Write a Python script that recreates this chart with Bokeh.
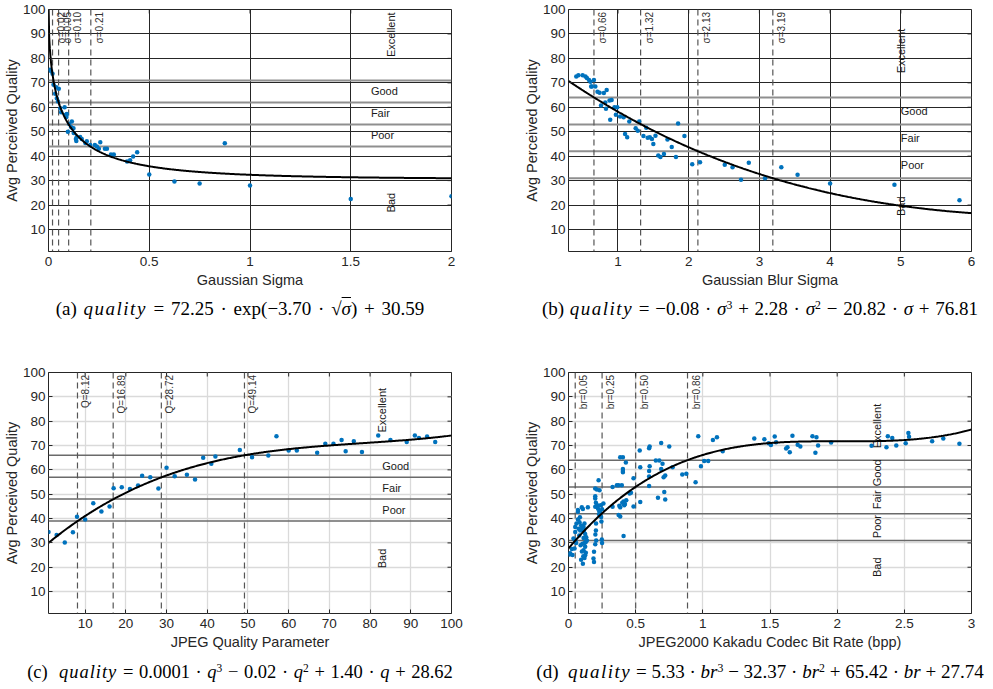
import math
import numpy as np
from bokeh.plotting import figure
from bokeh.models import Span, Div, Range1d, NumeralTickFormatter
from bokeh.layouts import row, column
from bokeh.embed import file_html
from bokeh.resources import INLINE
from bokeh.core.properties import value

# ---------------- data ----------------
y_ticks = [10, 20, 30, 40, 50, 60, 70, 80, 90, 100]
categories = ["Excellent", "Good", "Fair", "Poor", "Bad"]

# (a) Gaussian sigma
a_sigma = [0.008, 0.012, 0.020, 0.025, 0.033, 0.038, 0.041, 0.047, 0.051, 0.058, 0.063, 0.080,
           0.086, 0.089, 0.091, 0.096, 0.103, 0.113, 0.116, 0.124, 0.125, 0.136, 0.138, 0.140,
           0.157, 0.165, 0.183, 0.190, 0.207, 0.230, 0.240, 0.250, 0.257, 0.280, 0.290, 0.310,
           0.324, 0.390, 0.405, 0.420, 0.440, 0.500, 0.625, 0.750, 0.875, 1.000, 1.500, 2.000]
a_quality = [75.4, 74.8, 73.7, 69.2, 65.5, 68.2, 63.7, 62.4, 67.6, 59.6, 58.0, 60.0,
             56.9, 56.0, 57.2, 50.0, 53.2, 51.8, 54.2, 51.4, 49.5, 47.0, 46.2, 47.8,
             47.8, 47.0, 45.4, 46.1, 44.6, 44.6, 44.0, 43.0, 45.7, 43.0, 43.0, 40.7,
             40.7, 37.8, 38.3, 39.9, 41.6, 32.5, 29.6, 28.8, 45.3, 28.0, 22.5, 23.6]
a_coef = [72.25, -3.70, 30.59]
a_thresholds = [71, 62, 53, 44]
a_marks = [0.02, 0.05, 0.10, 0.21]
a_mark_labels = ["σ=0.02", "σ=0.05", "σ=0.10", "σ=0.21"]
a_xticks = [0, 0.5, 1, 1.5, 2]

# (b) Gaussian blur sigma
b_sigma = [0.41, 0.44, 0.50, 0.54, 0.56, 0.59, 0.61, 0.62, 0.63, 0.66, 0.68, 0.71, 0.74, 0.80,
           0.84, 0.76, 0.82, 0.83, 0.88, 0.91, 0.89, 0.95, 0.99, 0.97, 1.03, 1.08, 1.16, 1.10,
           1.13, 1.25, 1.28, 1.30, 1.36, 1.40, 1.42, 1.45, 1.48, 1.50, 1.53, 1.57, 1.60, 1.65,
           1.70, 1.76, 1.82, 1.85, 1.94, 2.05, 2.16, 2.51, 2.62, 2.74, 2.85, 3.08, 3.31, 3.54,
           4.00, 4.91, 5.83]
b_quality = [72.6, 73.1, 73.1, 72.6, 72.0, 71.2, 70.4, 68.5, 68.5, 71.2, 68.5, 66.4, 65.9, 65.8,
             67.1, 60.7, 62.0, 59.4, 62.8, 63.0, 54.9, 60.0, 60.0, 56.9, 56.2, 55.9, 54.2, 49.1,
             47.7, 51.4, 50.4, 54.2, 48.2, 51.6, 47.5, 47.7, 47.0, 45.0, 48.4, 40.3, 39.7, 40.9,
             46.8, 43.7, 39.7, 53.4, 48.2, 36.7, 37.5, 36.5, 35.5, 30.4, 37.3, 31.0, 35.5, 32.4,
             28.8, 28.3, 22.0]
b_coef = [-0.08, 2.28, -20.82, 76.81]
b_thresholds = [64, 53, 42, 31]
b_marks = [0.66, 1.32, 2.13, 3.19]
b_mark_labels = ["σ=0.66", "σ=1.32", "σ=2.13", "σ=3.19"]
b_xticks = [1, 2, 3, 4, 5, 6]

# (c) JPEG quality parameter
c_q = [1, 3, 5, 7, 8, 10, 12, 14, 16, 17, 19, 21, 23, 24, 26, 28, 30, 32, 35, 37, 39, 41, 42,
       48, 51, 55, 57, 60, 62, 67, 69, 71, 73, 74, 76, 78, 82, 85, 89, 91, 92, 94, 96]
c_quality = [34.5, 33.2, 30.2, 34.4, 40.7, 39.6, 46.3, 42.9, 45.0, 52.5, 52.9, 52.1, 53.6, 57.6,
             57.0, 52.3, 60.9, 57.4, 58.0, 56.0, 65.0, 62.5, 65.5, 68.2, 65.2, 65.9, 73.8, 68.0,
             68.0, 67.0, 70.7, 70.7, 72.3, 67.7, 71.8, 67.3, 74.1, 72.3, 71.4, 74.1, 73.1, 73.7, 71.4]
c_coef = [0.00007, -0.01645, 1.40, 28.62]
c_thresholds = [66, 57, 48, 39]
c_marks = [8.12, 16.89, 28.72, 49.14]
c_mark_labels = ["Q=8.12", "Q=16.89", "Q=28.72", "Q=49.14"]
c_xticks = [10, 20, 30, 40, 50, 60, 70, 80, 90, 100]

# (d) JPEG2000 Kakadu bit rate
d_br = [0.007, 0.012, 0.025, 0.030, 0.037, 0.045, 0.050, 0.050, 0.050, 0.057, 0.060, 0.070, 0.070,
        0.070, 0.075, 0.080, 0.082, 0.085, 0.087, 0.090, 0.094, 0.094, 0.099, 0.100, 0.100, 0.104,
        0.107, 0.107, 0.110, 0.112, 0.112, 0.112, 0.115, 0.119, 0.119, 0.120, 0.124, 0.124, 0.124,
        0.129, 0.129, 0.132, 0.137, 0.144,
        0.186, 0.190, 0.190, 0.199, 0.199, 0.199, 0.199, 0.199, 0.200, 0.204, 0.204, 0.205, 0.206,
        0.210, 0.211, 0.215, 0.220, 0.224, 0.228, 0.230, 0.231, 0.235, 0.240, 0.243, 0.245, 0.248,
        0.250, 0.250, 0.260,
        0.328, 0.328, 0.360, 0.373, 0.373, 0.378, 0.385, 0.385, 0.385, 0.397, 0.400, 0.405, 0.405,
        0.405, 0.405, 0.410, 0.410, 0.415, 0.420, 0.427, 0.430, 0.455, 0.465, 0.484, 0.484,
        0.530, 0.534, 0.534, 0.600, 0.600, 0.600, 0.600, 0.604, 0.604, 0.650, 0.666, 0.676, 0.690,
        0.690, 0.700, 0.708, 0.713, 0.720, 0.720, 0.750, 0.775, 0.847, 0.877, 0.946, 0.966, 0.986,
        1.010, 1.040, 1.075, 1.105, 1.148,
        1.383, 1.458, 1.490, 1.507, 1.535, 1.545, 1.620, 1.630, 1.647, 1.667, 1.706, 1.726, 1.816,
        1.838, 1.846, 1.858, 1.955, 2.256, 2.367, 2.377, 2.410, 2.440, 2.510, 2.530, 2.535, 2.707,
        2.790, 2.910]
d_quality = [25.2, 25.7, 27.5, 25.0, 31.8, 27.7, 36.5, 34.5, 31.1, 30.0, 38.0, 43.5, 39.6,
             42.8, 35.8, 33.0, 38.5, 40.5, 35.1, 29.0, 37.2, 23.1, 44.6, 35.8, 26.5, 29.7,
             43.9, 21.4, 24.5, 36.5, 32.0, 27.0, 35.0, 38.0, 23.8, 30.0, 33.7, 28.4, 24.9,
             26.0, 30.4, 32.3, 31.0, 44.6,
             23.6, 26.4, 22.2, 29.4, 44.9, 49.2, 48.2, 52.3, 33.5, 46.5, 35.1, 38.0, 31.0,
             45.0, 51.9, 45.5, 44.0, 55.7, 41.8, 43.0, 51.6, 42.5, 45.5, 40.6, 38.8, 31.4,
             43.8, 30.0, 46.2,
             53.0, 44.9, 53.7, 53.7, 41.5, 45.3, 44.6, 40.8, 65.2, 53.7, 46.5, 60.4, 59.5,
             59.0, 65.2, 32.8, 47.0, 45.5, 46.0, 63.0, 47.5, 50.3, 50.6, 56.6, 45.0,
             68.0, 61.1, 46.8, 68.9, 59.5, 57.3, 53.4, 69.6, 61.5, 63.9, 48.6, 63.9, 71.0,
             60.4, 62.5, 57.0, 50.9, 57.7, 47.8, 69.6, 61.1, 58.1, 58.4, 54.9, 73.8, 61.5,
             63.6, 63.6, 72.3, 73.4, 67.7,
             72.9, 72.6, 70.9, 70.2, 73.7, 71.3, 68.8, 69.3, 67.2, 74.0, 70.3, 69.6, 73.8,
             67.0, 73.4, 70.0, 71.2, 69.9, 69.3, 73.8, 73.1, 70.0, 70.9, 75.1, 73.6, 71.8,
             72.9, 70.7]
d_coef = [5.33, -32.37, 65.42, 27.74]
d_thresholds = [64, 53, 42, 31]
d_marks = [0.05, 0.25, 0.50, 0.886]
d_mark_labels = ["br=0.05", "br=0.25", "br=0.50", "br=0.86"]
d_xticks = [0, 0.5, 1, 1.5, 2, 2.5, 3]

# ---------------- styling helpers ----------------
FONT = "Liberation Sans"
INK = "#262626"
BLUE = "#0072BD"


def fit_a(x):
    return a_coef[0] * np.exp(a_coef[1] * np.sqrt(x)) + a_coef[2]


def make_panel(x, y, xr, xticks, xlabel, fx, fy, thresholds, marks, mark_labels, cats,
               dark, width, left, right, top, frame_h, bottom, fmt=None):
    p = figure(width=width, height=top + frame_h + bottom,
               x_range=Range1d(*xr), y_range=Range1d(1, 100),
               output_backend="svg", toolbar_location=None,
               min_border_left=left, min_border_right=right,
               min_border_top=top, min_border_bottom=bottom)
    p.background_fill_color = "white"
    p.border_fill_color = "white"
    p.outline_line_color = INK
    p.outline_line_width = 1
    p.xaxis.ticker = xticks
    p.yaxis.ticker = y_ticks
    if fmt:
        p.xaxis.formatter = NumeralTickFormatter(format=fmt)
    for ax in (p.xaxis[0], p.yaxis[0]):
        ax.axis_line_color = None
        ax.major_tick_in = 4
        ax.major_tick_out = 0
        ax.major_tick_line_color = INK
        ax.minor_tick_line_color = None
        ax.major_label_text_font = FONT
        ax.major_label_text_font_size = "13.5px"
        ax.major_label_text_color = INK
        ax.axis_label_text_font = FONT
        ax.axis_label_text_font_size = "14.5px"
        ax.axis_label_text_font_style = "normal"
        ax.axis_label_text_color = INK
    p.xaxis.major_label_standoff = 5
    p.xaxis.axis_label_standoff = 3
    p.yaxis.major_label_standoff = 3
    p.yaxis.axis_label_standoff = 0
    p.xaxis.axis_label = xlabel
    p.yaxis.axis_label = "Avg Perceived Quality"
    if dark:
        gcol, gw, tcol, tw = INK, 1, "#8f8f8f", 2
    else:
        gcol, gw, tcol, tw = "#dadada", 1.3, "#6a6a6a", 1.5
    for g in (p.xgrid[0], p.ygrid[0]):
        g.grid_line_color = gcol
        g.grid_line_width = gw
    for t in thresholds:
        p.add_layout(Span(location=t, dimension="width", line_color=tcol,
                          line_width=tw, level="underlay"))
    for m in marks:
        p.add_layout(Span(location=m, dimension="height", line_color="#555555",
                          line_dash="6 4", line_width=1.2, level="underlay"))
    # box ticks on the right and top edges
    p.ray(x=[xr[1]] * len(y_ticks), y=y_ticks, length=4, length_units="screen",
          angle=math.pi, line_color=INK, line_width=1)
    p.ray(x=xticks, y=[100] * len(xticks), length=4, length_units="screen",
          angle=-math.pi / 2, line_color=INK, line_width=1)
    p.text(x=marks, y=[99] * len(marks), text=mark_labels, angle=math.pi / 2,
           text_align="right", text_baseline="top", x_offset=3,
           text_font=value(FONT), text_font_size="10px", text_color="#333333")
    hx = [c[0] for c in cats if not c[2]]
    hy = [c[1] for c in cats if not c[2]]
    ht = [n for n, c in zip(categories, cats) if not c[2]]
    rx = [c[0] for c in cats if c[2]]
    ry = [c[1] for c in cats if c[2]]
    rt = [n for n, c in zip(categories, cats) if c[2]]
    if ht:
        p.text(x=hx, y=hy, text=ht, text_align="left", text_baseline="middle",
               text_font=value(FONT), text_font_size="11px", text_color="#1a1a1a")
    if rt:
        p.text(x=rx, y=ry, text=rt, angle=math.pi / 2, text_align="center",
               text_baseline="middle", text_font=value(FONT), text_font_size="11px",
               text_color="#1a1a1a")
    p.scatter(x, y, size=4.5, fill_color=BLUE, line_color=None)
    p.line(fx, fy, line_color="black", line_width=2)
    return p


# category label anchors (x, y, rotated)
a_cat = [(1.70, 89.7, True), (1.60, 66.5, False), (1.60, 57.5, False), (1.60, 48.5, False), (1.70, 21.0, True)]
b_cat = [(5.0, 83.0, True), (5.0, 58.5, False), (5.0, 47.5, False), (5.0, 36.5, False), (5.0, 19.5, True)]
c_cat = [(83, 84.5, True), (83, 61.5, False), (83, 52.5, False), (83, 43.5, False), (83, 23.6, True)]
d_cat = [(2.30, 78.0, True), (2.30, 58.8, True), (2.30, 47.7, True), (2.30, 36.7, True), (2.30, 20.0, True)]

WA, WB = 504, 486

ax_ = np.linspace(0, 2, 600)
pa = make_panel(a_sigma, a_quality, (0, 2), a_xticks, "Gaussian Sigma", ax_, fit_a(ax_),
                a_thresholds, a_marks, a_mark_labels, a_cat, True, WA, 48, 53, 9, 242, 40, fmt="0.[0]")
bx_ = np.linspace(0.3, 6, 400)
pb = make_panel(b_sigma, b_quality, (0.3, 6), b_xticks, "Gaussian Blur Sigma", bx_, np.polyval(b_coef, bx_),
                b_thresholds, b_marks, b_mark_labels, b_cat, True, WB, 64, 19, 9, 242, 40)
cx_ = np.linspace(1, 100, 400)
pc = make_panel(c_q, c_quality, (1, 100), c_xticks, "JPEG Quality Parameter", cx_, np.polyval(c_coef, cx_),
                c_thresholds, c_marks, c_mark_labels, c_cat, False, WA, 48, 53, 49, 241, 40)
dx_ = np.linspace(0, 3, 400)
pd_ = make_panel(d_br, d_quality, (0, 3), d_xticks, "JPEG2000 Kakadu Codec Bit Rate (bpp)", dx_,
                 np.polyval(d_coef, dx_), d_thresholds, d_marks, d_mark_labels, d_cat, False,
                 WB, 64, 19, 49, 241, 40, fmt="0.[0]")


def caption(html, width, height, pad_top, pad_left, pad_right, wsp, fs):
    style = (f"box-sizing:border-box;font-family:'Liberation Serif',serif;font-size:{fs}px;line-height:20px;"
             f"white-space:nowrap;text-align:center;color:#000;word-spacing:{wsp}px;"
             f"padding-top:{pad_top}px;padding-left:{pad_left}px;padding-right:{pad_right}px;"
             f"width:{width}px;")
    return Div(text=f'<div style="{style}">{html}</div>', width=width, height=height,
               margin=(0, 0, 0, 0), styles={"overflow": "visible"})


SUP = '<sup style="font-size:0.62em;vertical-align:0.5em;line-height:0">'
Q = '<i style="letter-spacing:1.5px">quality</i>'
Qc = '<i style="letter-spacing:1px">quality</i>'
ca = caption(f'(a) {Q} = 72.25 · exp(−3.70 · √<span style="text-decoration:overline"><i>σ</i></span>) + 30.59',
             WA, 32, 8, 0, 24, 2, 19)
cb = caption(f'(b) {Q} = −0.08 · <i>σ</i>{SUP}3</sup> + 2.28 · <i>σ</i>{SUP}2</sup> − 20.82 · <i>σ</i> + 76.81',
             WB, 32, 8, 26, 0, 1, 19)
cc = caption(f'(c)&nbsp; {Qc} = 0.0001 · <i>q</i>{SUP}3</sup> − 0.02 · <i>q</i>{SUP}2</sup> + 1.40 · <i>q</i> + 28.62',
             WA, 30, 9, 0, 24, 1, 18.5)
cd = caption(f'(d)&nbsp; {Q} = 5.33 · <i>br</i>{SUP}3</sup> − 32.37 · <i>br</i>{SUP}2</sup> + 65.42 · <i>br</i> + 27.74',
             WB, 30, 9, 26, 0, 0, 19)

layout = column(row(column(pa, ca), column(pb, cb)),
                row(column(pc, cc), column(pd_, cd)))

open("out.html", "w").write(file_html(layout, INLINE))
